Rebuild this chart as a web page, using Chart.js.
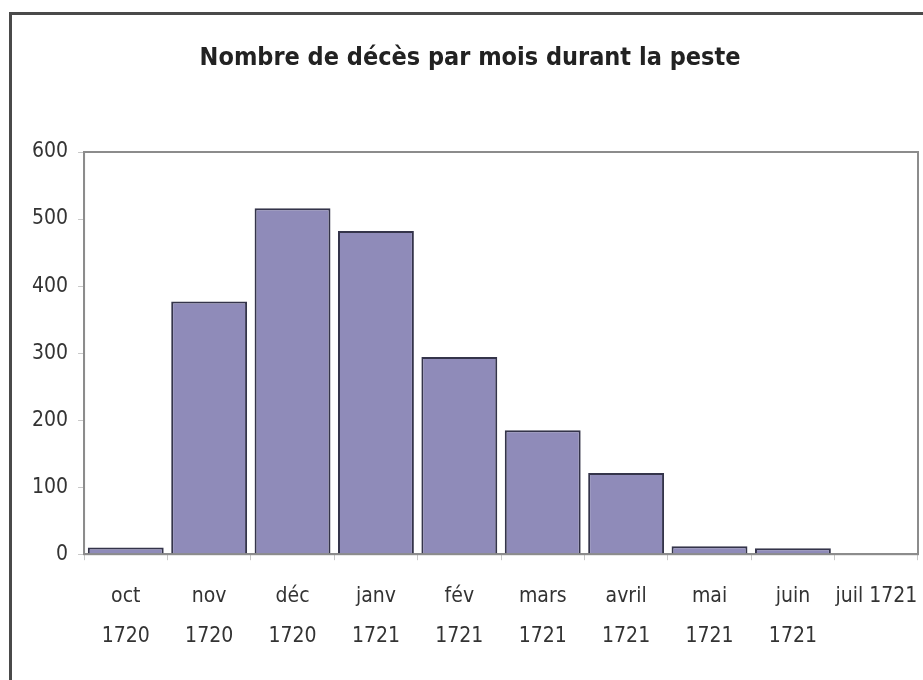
<!DOCTYPE html>
<html lang="fr">
<head>
<meta charset="utf-8">
<title>Nombre de décès par mois durant la peste</title>
<script src="https://cdn.jsdelivr.net/npm/chart.js@4.4.1/dist/chart.umd.min.js"></script>
<style>
    html, body { margin: 0; padding: 0; background: #fff; }
    #wrap { position: relative; width: 923px; height: 680px; overflow: hidden; }
    #chart { position: absolute; left: 0; top: 0; }
    /* sheet frame, only top and left edges show */
    #frame {
        position: absolute; left: 9px; top: 12px; width: 940px; height: 700px;
        border-top: 3px solid #4a4a4a; border-left: 3px solid #4a4a4a;
        pointer-events: none;
    }
</style>
</head>
<body>
<div id="wrap">
    <canvas id="chart" width="923" height="680"></canvas>
    <div id="frame"></div>
</div>
<script>
const months = [
    ['oct', '1720'], ['nov', '1720'], ['déc', '1720'], ['janv', '1721'], ['fév', '1721'],
    ['mars', '1721'], ['avril', '1721'], ['mai', '1721'], ['juin', '1721'], 'juil 1721'
];
const deaths = [10, 377, 516, 482, 294, 185, 121, 12, 9, 0];
const yTicks = [0, 100, 200, 300, 400, 500, 600];

const FONT = "'Liberation Sans Narrow', 'DejaVu Sans Condensed', 'Arial Narrow', sans-serif";
const AXIS_GRAY = '#8c8c8c';

// grey box around the plot area (top and right sides included)
const plotBorder = {
    id: 'plotBorder',
    afterDatasetsDraw(chart) {
        const { ctx, chartArea: a } = chart;
        ctx.save();
        ctx.strokeStyle = AXIS_GRAY;
        ctx.lineWidth = 2;
        ctx.strokeRect(a.left, a.top, a.right - a.left, a.bottom - a.top);
        ctx.restore();
    }
};

new Chart(document.getElementById('chart'), {
    type: 'bar',
    data: {
        labels: months,
        datasets: [{
            data: deaths,
            backgroundColor: '#8f8bb9',
            borderColor: '#34344a',
            borderWidth: 2,
            borderSkipped: 'bottom',
            barPercentage: 0.91,
            categoryPercentage: 1
        }]
    },
    options: {
        responsive: false,
        animation: false,
        layout: { padding: { left: 22, right: 5, top: 43, bottom: 8 } },
        plugins: {
            legend: { display: false },
            tooltip: { enabled: false },
            title: {
                display: true,
                text: 'Nombre de décès par mois durant la peste',
                color: '#222',
                font: { family: FONT, size: 25, weight: 'bold' },
                padding: { top: 0, bottom: 79 }
            }
        },
        scales: {
            x: {
                offset: true,
                // the long last label may hang past the plot edge
                afterFit(scale) {
                    scale.paddingLeft = 0;
                    scale.paddingRight = 0;
                },
                grid: {
                    offset: true,
                    drawOnChartArea: false,
                    color: '#c8c8c8',
                    tickLength: 6
                },
                border: { color: AXIS_GRAY, width: 2 },
                ticks: {
                    color: '#333',
                    maxRotation: 0,
                    autoSkip: false,
                    padding: 16,
                    font: { family: FONT, size: 21, lineHeight: 1.9 }
                }
            },
            y: {
                min: 0,
                max: 600,
                afterBuildTicks(axis) {
                    axis.ticks = yTicks.map(v => ({ value: v }));
                },
                grid: {
                    drawOnChartArea: false,
                    color: '#c8c8c8',
                    tickLength: 6
                },
                border: { color: AXIS_GRAY, width: 2 },
                ticks: {
                    color: '#333',
                    padding: 10,
                    font: { family: FONT, size: 21 }
                }
            }
        }
    },
    plugins: [plotBorder]
});
</script>
</body>
</html>
